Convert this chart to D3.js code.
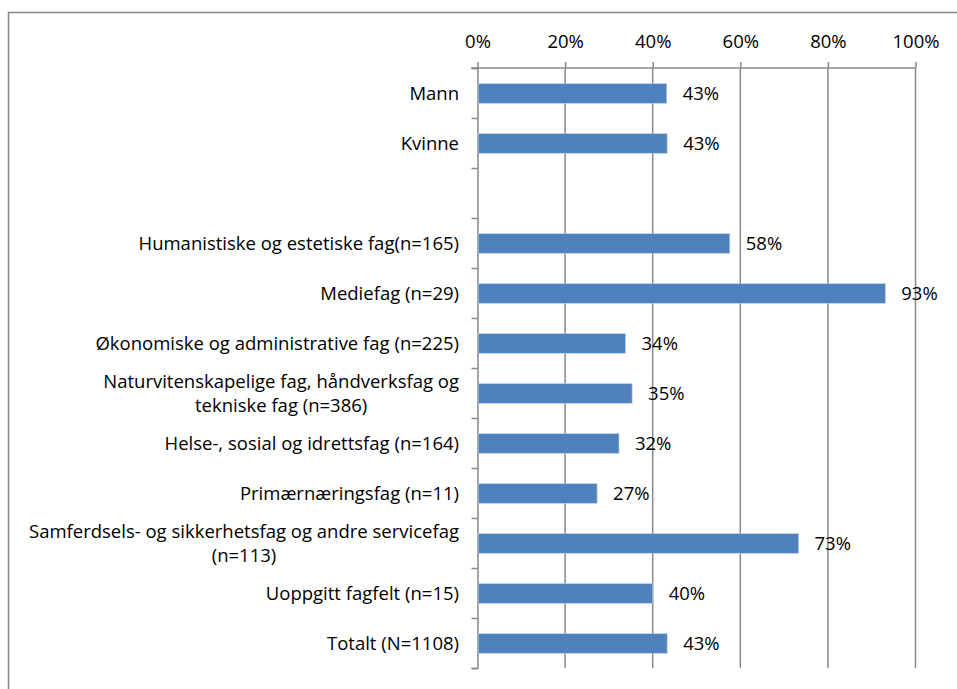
<!DOCTYPE html>
<html>
<head>
<meta charset="utf-8">
<script src="https://cdn.jsdelivr.net/npm/d3@7"></script>
<style>
  body { margin: 0; background: #fff; }
  svg text { font-family: "Open Sans", Lato, sans-serif; fill: #000; }
</style>
</head>
<body>
<svg id="chart" width="957" height="689"></svg>
<script>
// category labels (multi-line labels split into lines)
var categories = [
  ["Mann"],
  ["Kvinne"],
  [""],
  ["Humanistiske og estetiske fag(n=165)"],
  ["Mediefag (n=29)"],
  ["Økonomiske og administrative fag (n=225)"],
  ["Naturvitenskapelige fag, håndverksfag og", "tekniske fag (n=386)"],
  ["Helse-, sosial og idrettsfag (n=164)"],
  ["Primærnæringsfag (n=11)"],
  ["Samferdsels- og sikkerhetsfag og andre servicefag", "(n=113)"],
  ["Uoppgitt fagfelt (n=15)"],
  ["Totalt (N=1108)"]
];
var values = [0.432, 0.433, null, 0.576, 0.931, 0.338, 0.353, 0.323, 0.273, 0.733, 0.40, 0.433];
var xTicks = [0, 0.2, 0.4, 0.6, 0.8, 1.0];

var svg = d3.select('#chart');
var plotTop = 68, plotBottom = 668, plotLeft = 477.5, plotRight = 915.5;
var fontSize = 18.5;

// frame round the chart
svg.append('rect')
  .attr('x', 8.5).attr('y', 12.5)
  .attr('width', 1000).attr('height', 1000)
  .attr('fill', 'none')
  .attr('stroke', '#868686')
  .attr('stroke-width', 1.5);

var x = d3.scaleLinear().domain([0, 1]).range([plotLeft, plotRight]);
var y = d3.scaleBand()
  .domain(d3.range(categories.length))
  .range([plotTop, plotBottom])
  .paddingInner(0.61)
  .paddingOuter(0.305);

// vertical gridlines
svg.append('g')
  .selectAll('line')
  .data(xTicks.slice(1))
  .enter().append('line')
  .attr('x1', d => x(d)).attr('x2', d => x(d))
  .attr('y1', plotTop).attr('y2', plotBottom)
  .attr('stroke', '#888')
  .attr('stroke-width', 1.5);

// top axis
var xAxis = d3.axisTop(x).tickValues(xTicks).tickFormat(d3.format('.0%')).tickSize(6).tickPadding(14);
svg.append('g')
  .attr('transform', `translate(0,${plotTop})`)
  .call(xAxis)
  .call(g => g.select('.domain').attr('stroke', '#888').attr('stroke-width', 1.5).attr('d', `M${plotLeft - 6},0H${plotRight}`))
  .call(g => g.selectAll('.tick line').attr('stroke', '#888').attr('stroke-width', 1.5))
  .call(g => g.selectAll('.tick text').style('font-size', fontSize + 'px').attr('fill', '#000'));

// left axis with ticks between categories
var yb = d3.scaleLinear().domain([0, categories.length]).range([plotTop, plotBottom]);
svg.append('g')
  .attr('transform', `translate(${plotLeft},0)`)
  .call(d3.axisLeft(yb).ticks(categories.length).tickFormat('').tickSize(6).tickSizeOuter(6))
  .call(g => g.select('.domain').attr('stroke', '#888').attr('stroke-width', 1.5))
  .call(g => g.selectAll('.tick line').attr('stroke', '#888').attr('stroke-width', 1.5));

// bars
var data = values.map((v, i) => ({ i: i, v: v })).filter(d => d.v !== null);
svg.append('g')
  .selectAll('rect')
  .data(data)
  .enter().append('rect')
  .attr('x', x(0) + 0.75)
  .attr('y', d => y(d.i) + 0.5)
  .attr('width', d => x(d.v) - x(0) - 0.75)
  .attr('height', y.bandwidth())
  .attr('fill', '#4F81BD')
  .attr('stroke', '#B4C8E4')
  .attr('stroke-width', 0.6);

// value labels
svg.append('g')
  .selectAll('text')
  .data(data)
  .enter().append('text')
  .attr('x', d => x(d.v) + 16)
  .attr('y', d => y(d.i) + y.bandwidth() / 2 + 0.5)
  .attr('dy', '0.35em')
  .style('font-size', fontSize + 'px')
  .text(d => d3.format('.0%')(d.v));

// category labels, lines centred on each other and block right aligned
var labelRight = 459;
var lineGap = 24;
categories.forEach(function(lines, i) {
  var cy = y(i) + y.bandwidth() / 2 + 0.5;
  var g = svg.append('g');
  var texts = lines.map(function(t, k) {
    return g.append('text')
      .attr('y', cy + (k - (lines.length - 1) / 2) * lineGap)
      .attr('dy', '0.35em')
      .style('font-size', fontSize + 'px')
      .text(t);
  });
  if (lines.length == 1) {
    texts[0].attr('x', labelRight).attr('text-anchor', 'end');
  } else {
    var w = d3.max(texts, t => t.node().getComputedTextLength());
    texts.forEach(t => t.attr('x', labelRight - w / 2).attr('text-anchor', 'middle'));
  }
});
</script>
</body>
</html>
